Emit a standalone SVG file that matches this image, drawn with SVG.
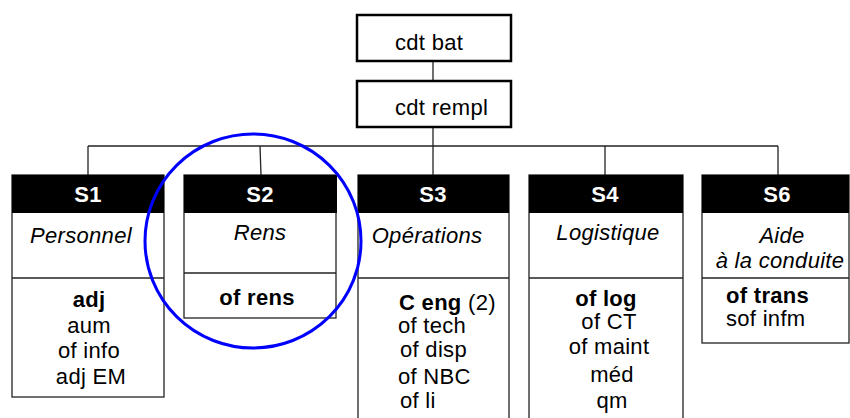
<svg xmlns="http://www.w3.org/2000/svg" width="850" height="418" viewBox="0 0 850 418">
<style>
text{font-family:"Liberation Sans",Arial,sans-serif;font-size:22px;fill:#000;letter-spacing:0.3px}
.c{text-anchor:middle}
.b{font-weight:bold}
.i{font-style:italic}
.h{font-weight:bold;fill:#fff;text-anchor:middle}
.top{fill:#fff;stroke:#000;stroke-width:2.5}
.box{fill:#fff;stroke:#222;stroke-width:1.3}
.hd{fill:#000}
.ln{stroke:#222;stroke-width:1.3;fill:none}
</style>
<g id="connectors">
<line class="ln" x1="433" y1="61" x2="433" y2="81"/>
<line class="ln" x1="433" y1="127" x2="433" y2="175"/>
<line class="ln" x1="88" y1="146" x2="778" y2="146"/>
<line class="ln" x1="88" y1="146" x2="88" y2="175"/>
<line class="ln" x1="260" y1="146" x2="261" y2="175"/>
<line class="ln" x1="605" y1="146" x2="605" y2="175"/>
<line class="ln" x1="778" y1="146" x2="778" y2="175"/>
</g>
<g id="cdt-bat">
<rect class="top" x="357" y="15" width="154" height="46"/>
<text x="395" y="50">cdt bat</text>
</g>
<g id="cdt-rempl">
<rect class="top" x="357" y="81" width="154" height="46"/>
<text x="395" y="115">cdt rempl</text>
</g>
<g id="S1">
<rect class="box" x="12" y="175" width="152" height="222"/>
<rect class="hd" x="12" y="175" width="152" height="38"/>
<line class="ln" x1="12" y1="278" x2="164" y2="278"/>
<text class="h" x="88" y="202">S1</text>
<text class="i c" x="81" y="243">Personnel</text>
<text class="b c" x="89" y="307">adj</text>
<text class="c" x="89" y="333">aum</text>
<text class="c" x="89" y="358">of info</text>
<text class="c" x="91" y="384">adj EM</text>
</g>
<g id="S2">
<rect class="box" x="184" y="175" width="152" height="143"/>
<rect class="hd" x="184" y="175" width="153" height="38"/>
<line class="ln" x1="184" y1="273" x2="336" y2="273"/>
<text class="h" x="260" y="202">S2</text>
<text class="i c" x="260" y="240">Rens</text>
<text class="b c" x="257" y="305">of rens</text>
</g>
<g id="S3">
<rect class="box" x="358" y="175" width="151" height="250"/>
<rect class="hd" x="358" y="175" width="151" height="38"/>
<line class="ln" x1="358" y1="278" x2="509" y2="278"/>
<text class="h" x="433" y="202">S3</text>
<text class="i c" x="427" y="243">Opérations</text>
<text x="399" y="310"><tspan class="b">C eng</tspan> (2)</text>
<text x="398" y="333">of tech</text>
<text x="400" y="357">of disp</text>
<text x="398" y="384">of NBC</text>
<text x="400" y="408">of li</text>
</g>
<g id="S4">
<rect class="box" x="529" y="175" width="154" height="250"/>
<rect class="hd" x="529" y="175" width="154" height="38"/>
<line class="ln" x1="529" y1="278" x2="683" y2="278"/>
<text class="h" x="605" y="202">S4</text>
<text class="i c" x="608" y="240">Logistique</text>
<text class="b c" x="606" y="306">of log</text>
<text class="c" x="609" y="329">of CT</text>
<text class="c" x="609" y="354">of maint</text>
<text class="c" x="612" y="382">méd</text>
<text class="c" x="612" y="408">qm</text>
</g>
<g id="S6">
<rect class="box" x="702" y="175" width="147" height="168"/>
<rect class="hd" x="702" y="175" width="147" height="38"/>
<line class="ln" x1="702" y1="278" x2="849" y2="278"/>
<text class="h" x="777" y="202">S6</text>
<text class="i c" x="782" y="243">Aide</text>
<text class="i c" x="780" y="268">à la conduite</text>
<text class="b" x="726" y="303">of trans</text>
<text x="726" y="326">sof infm</text>
</g>
<g id="highlight">
<ellipse cx="253" cy="241" rx="108" ry="107" fill="none" stroke="#0000ff" stroke-width="3"/>
</g>
</svg>
